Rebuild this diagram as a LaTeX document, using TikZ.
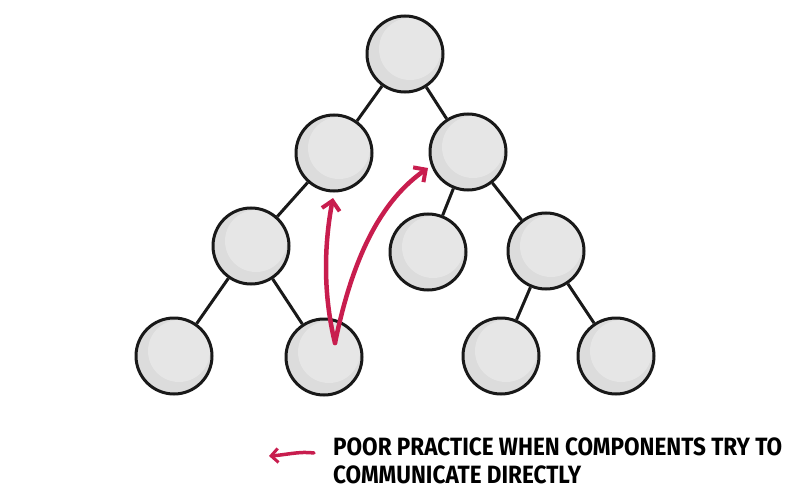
\documentclass[tikz,border=0pt]{standalone}
\usepackage{fontspec}
\setmainfont{Fira Sans}
\usetikzlibrary{arrows.meta}
\definecolor{crim}{HTML}{C81D4E}
\definecolor{ballfill}{HTML}{DCDCDC}
\definecolor{balllight}{HTML}{E6E6E6}
\begin{document}
\begin{tikzpicture}[x=1pt,y=-1pt,
  ball/.style={circle,draw=black!90,line width=3pt,fill=ballfill,minimum size=76pt,inner sep=0pt,
    path picture={\fill[balllight] ([xshift=5pt,yshift=5pt]path picture bounding box.center) circle (31pt);}},
  link/.style={line width=3pt,black!90},
  redarrow/.style={line width=4.5pt,crim,line cap=round,-{Straight Barb[length=9pt,width=18pt,line width=4pt]}}]
\useasboundingbox (0,0) rectangle (800,500);
\node[ball] (r) at (405,54) {};
\node[ball] (a) at (334,153) {};
\node[ball] (b) at (468,152) {};
\node[ball] (a1) at (251,246) {};
\node[ball] (b1) at (428,252) {};
\node[ball] (b2) at (546,251) {};
\node[ball] (x1) at (174,356) {};
\node[ball] (x2) at (324,357) {};
\node[ball] (x3) at (501,356) {};
\node[ball] (x4) at (616,356) {};
\draw[link] (r) -- (a);
\draw[link] (r) -- (b);
\draw[link] (a) -- (a1);
\draw[link] (a1) -- (x1);
\draw[link] (a1) -- (x2);
\draw[link] (b) -- (b1);
\draw[link] (b) -- (b2);
\draw[link] (b2) -- (x3);
\draw[link] (b2) -- (x4);
\coordinate (s) at (335,343);
\coordinate (t1) at (333,198);
\coordinate (t2) at (428,168);
\draw[redarrow] (s) .. controls (322,290) and (325,240) .. (t1);
\draw[redarrow] (s) .. controls (350,270) and (375,205) .. (t2);
\coordinate (ls) at (314,453);
\coordinate (le) at (269,456);
\node[anchor=base west,align=left,font=\fontsize{25}{28}\selectfont\bfseries,inner sep=0pt,xscale=0.9] (txt) at (333,483) {POOR PRACTICE WHEN COMPONENTS TRY TO\\COMMUNICATE DIRECTLY};
\draw[redarrow,line width=3.5pt,-{Straight Barb[length=7pt,width=14pt,line width=3pt]}] (ls) .. controls (300,451) and (285,455) .. (le);
\end{tikzpicture}
\end{document}
